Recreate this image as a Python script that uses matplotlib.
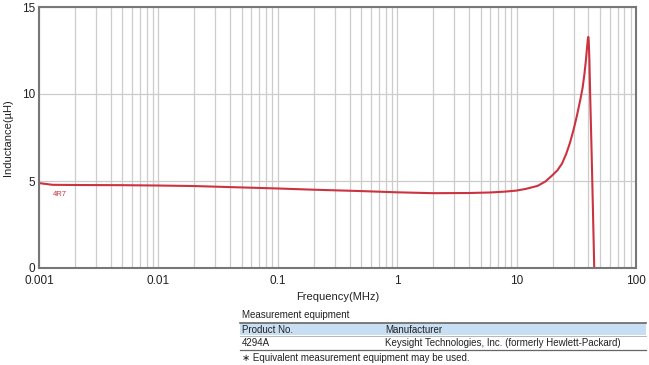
import matplotlib
matplotlib.use("Agg")
import matplotlib.pyplot as plt
from matplotlib.patches import Rectangle
from matplotlib.lines import Line2D
from matplotlib.ticker import FixedLocator, LogLocator, NullFormatter

plt.rcParams['font.family'] = ['Liberation Sans', 'DejaVu Sans']

# Data
freq_mhz = [0.001, 0.0013, 0.002, 0.005, 0.01, 0.02, 0.05, 0.1, 0.2, 0.5, 1, 2, 4, 6, 8, 10,
            12, 15, 17.5, 20, 22, 24, 26, 28, 30, 32, 34, 35.7, 37, 38, 39, 39.5, 39.85,
            40.2, 40.7, 41.3, 42.5, 43.6, 44.7]
inductance_uh = [4.88, 4.78, 4.77, 4.76, 4.74, 4.71, 4.63, 4.57, 4.50, 4.42, 4.35, 4.30, 4.31, 4.34, 4.39, 4.45,
                 4.55, 4.72, 4.98, 5.34, 5.62, 6.0, 6.55, 7.2, 7.95, 8.75, 9.6, 10.35, 11.15, 11.9, 12.75, 13.15, 13.28,
                 13.05, 12.0, 10.0, 6.6, 3.3, 0.0]
x_ticks = [0.001, 0.01, 0.1, 1, 10, 100]
x_tick_labels = ["0.001", "0.01", "0.1", "1", "10", "100"]
y_ticks = [0, 5, 10, 15]
series_label = "4R7"
table_header = ["Product No.", "Manufacturer"]
table_row = ["4294A", "Keysight Technologies, Inc. (formerly Hewlett-Packard)"]

W, H = 649, 365
fig = plt.figure(figsize=(W / 100, H / 100), dpi=100)

def fx(px):
    return px / W

def fy(py):
    return 1 - py / H

ax = fig.add_axes([fx(39), fy(268), fx(636) - fx(39), fy(7) - fy(268)])
red = "#cc3340"
ax.plot(freq_mhz, inductance_uh, color=red, lw=1.5, solid_joinstyle='round', clip_on=True)
ax.set_xscale('log')
ax.set_xlim(0.001, 100)
ax.set_ylim(0, 15)
ax.xaxis.set_major_locator(FixedLocator(x_ticks))
ax.set_xticklabels(x_tick_labels)
ax.xaxis.set_minor_locator(LogLocator(base=10, subs=range(2, 10)))
ax.xaxis.set_minor_formatter(NullFormatter())
ax.set_yticks(y_ticks)
ax.grid(True, which='both', axis='x', color='#cccccc', lw=0.9)
ax.grid(True, which='major', axis='y', color='#cccccc', lw=0.9)
ax.set_axisbelow(True)
for s in ax.spines.values():
    s.set_color('#777777')
    s.set_linewidth(1.5)
ax.tick_params(which='both', length=0, labelsize=8.5, colors='#222222')
ax.tick_params(axis='x', pad=5)
ax.tick_params(axis='y', pad=3)
ax.set_xlabel("Frequency(MHz)", fontsize=8, color='#222222', labelpad=4)
ax.set_ylabel("Inductance(\u00b5H)", fontsize=8, color='#222222', labelpad=6)
ax.text(0.0013, 4.2, series_label, color=red, fontsize=5.5, ha='left', va='center')

# Measurement equipment table
tfs = 7
fig.text(fx(242), fy(315), "Measurement equipment", fontsize=tfs, va='center', ha='left', color='#222222')
fig.add_artist(Rectangle((fx(240), fy(335)), fx(646) - fx(240), fy(323) - fy(335),
                         transform=fig.transFigure, facecolor='#c8def2', edgecolor='none'))
fig.add_artist(Line2D([fx(240), fx(646)], [fy(323), fy(323)], transform=fig.transFigure, color='#666666', lw=1.2))
fig.add_artist(Line2D([fx(240), fx(646)], [fy(336), fy(336)], transform=fig.transFigure, color='#aaaaaa', lw=0.6))
fig.add_artist(Line2D([fx(240), fx(646)], [fy(349.5), fy(349.5)], transform=fig.transFigure, color='#666666', lw=0.9))
fig.text(fx(242), fy(330), table_header[0], fontsize=tfs, va='center', ha='left', color='#222222')
fig.text(fx(385), fy(330), table_header[1], fontsize=tfs, va='center', ha='left', color='#222222')
fig.text(fx(242), fy(343), table_row[0], fontsize=tfs, va='center', ha='left', color='#222222')
fig.text(fx(385), fy(343), table_row[1], fontsize=tfs, va='center', ha='left', color='#222222')
fig.text(fx(242), fy(358), "\u2217 Equivalent measurement equipment may be used.", fontsize=tfs,
         va='center', ha='left', color='#222222')

fig.savefig("out.png", dpi=100)
